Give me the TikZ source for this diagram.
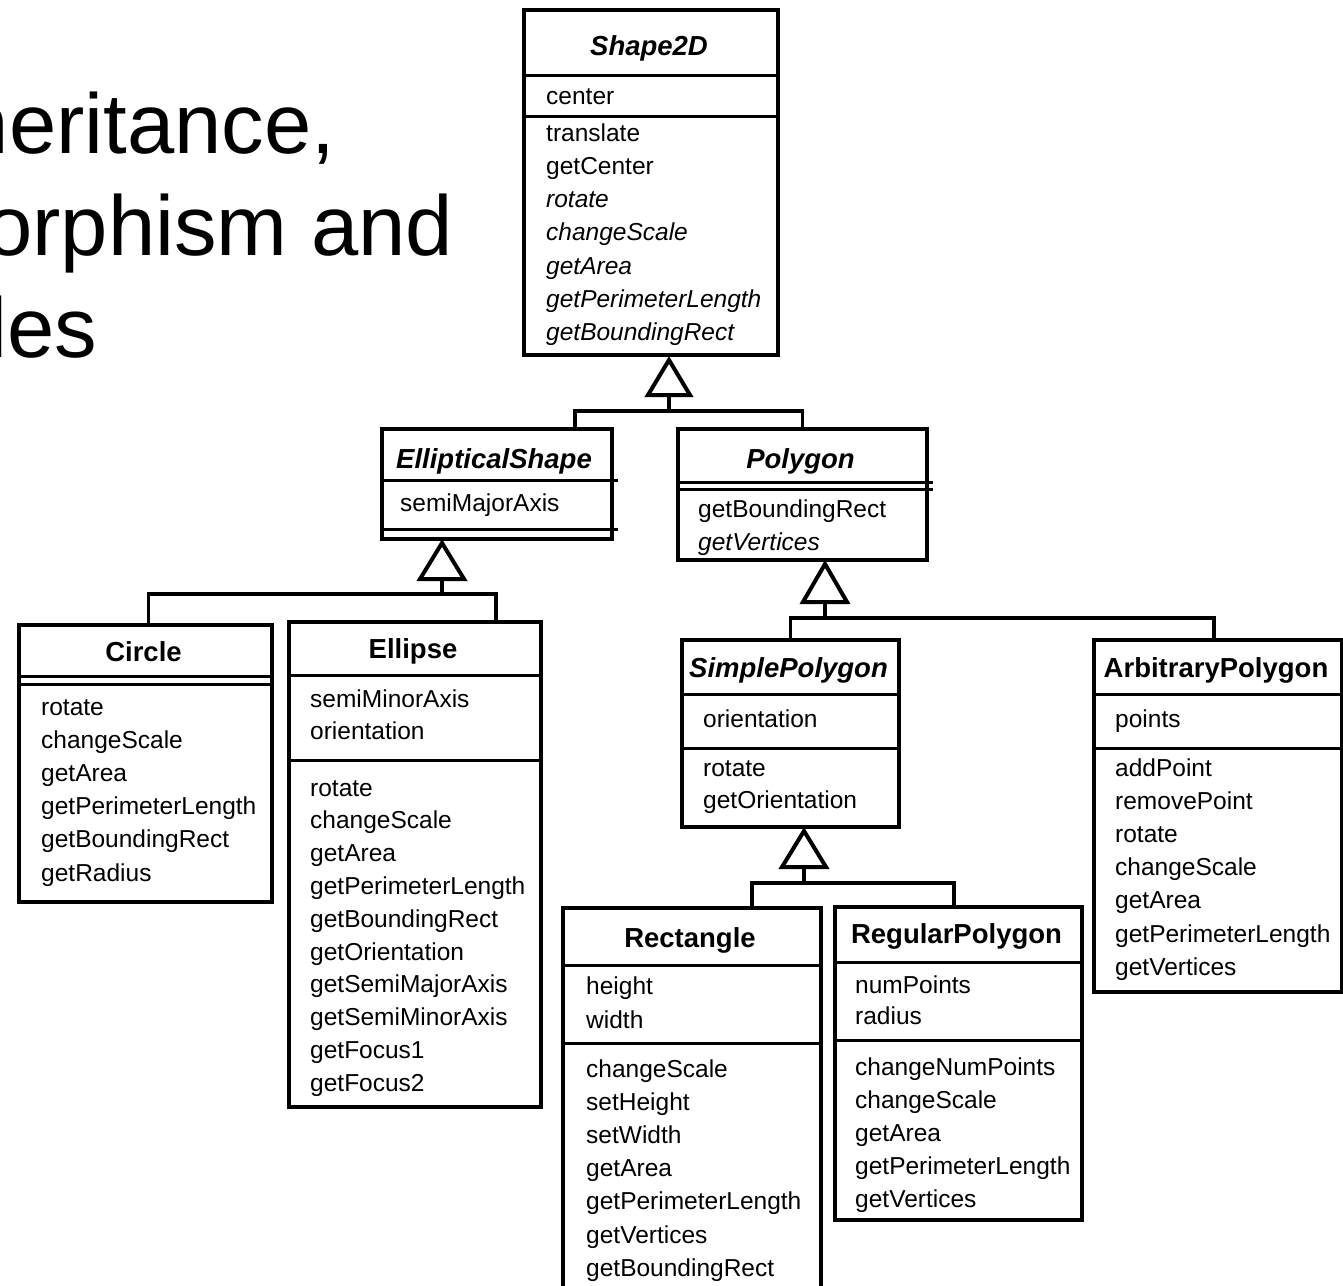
\documentclass[tikz,border=0pt]{standalone}
\usepackage{fontspec}
\setmainfont{Liberation Sans}
\usetikzlibrary{calc}
\begin{document}
\begin{tikzpicture}[x=1pt,y=-1pt,
  box/.style={draw, line width=4pt, inner sep=0pt, anchor=north west},
  boxline/.style={line width=4pt, line join=miter},
  div/.style={line width=3pt},
  conn/.style={line width=3.5pt},
  tri/.style={line width=4pt, line join=miter},
  ttl/.style={anchor=base, inner sep=0pt, font=\fontsize{27.5}{30}\selectfont\bfseries},
  ttla/.style={anchor=base, inner sep=0pt, font=\fontsize{27.5}{30}\selectfont\bfseries\itshape},
  mem/.style={anchor=base west, inner sep=0pt, font=\fontsize{24.5}{28}\selectfont},
  big/.style={anchor=base west, inner sep=0pt, font=\fontsize{85}{102}\selectfont}]
\useasboundingbox (0,0) rectangle (1343,1285);
\clip (0,0) rectangle (1343,1285);
\fill[white] (0,0) rectangle (1343,1285);

% slide title (cut at the left edge)
\node[big] (t1) at (-251,153) {2.6 Inheritance,};
\node[big] (t2) at (-251,255) {Polymorphism and};
\node[big] (t3) at (-251,357) {Variables};

% ---------- boxes ----------
\node[box, minimum width=254pt, minimum height=345pt] (shape) at (522,8) {};
\node[box, minimum width=230pt, minimum height=110pt] (ell) at (380,427) {};
\node[box, minimum width=249pt, minimum height=131pt] (poly) at (676,427) {};
\node[box, minimum width=253pt, minimum height=277pt] (circ) at (17,623) {};
\node[box, minimum width=252pt, minimum height=485pt] (elli) at (287,620) {};
\node[box, minimum width=217pt, minimum height=187pt] (simp) at (680,638) {};
\node[box, minimum width=248pt, minimum height=352pt] (arb) at (1092,638) {};
\node[box, draw=none, minimum width=254pt, minimum height=400pt] (rect) at (563,908) {};
\draw[boxline] (rect.south west) -- (rect.north west) -- (rect.north east) -- (rect.south east);
\node[box, minimum width=247pt, minimum height=313pt] (reg) at (833,905) {};

% ---------- dividers ----------
\foreach \b/\y in {shape/75, shape/116, circ/676, circ/684, elli/675, elli/760,
                   simp/694, simp/748, arb/694, arb/748, rect/965, rect/1043,
                   reg/962, reg/1040}
  \draw[div] (\b.west |- 0,\y) -- (\b.east |- 0,\y);
\foreach \b/\y in {ell/480, ell/529, poly/482, poly/489}
  \draw[div] (\b.west |- 0,\y) -- ($(\b.east |- 0,\y)+(4,0)$);

% ---------- titles ----------
\node[ttla] (shapeT) at (649,55) {Shape2D};
\node[ttla] (ellT) at (494,468) {EllipticalShape};
\node[ttla] (polyT) at (800.5,468) {Polygon};
\node[ttl] (circT) at (143.5,661) {Circle};
\node[ttl] (elliT) at (413,658) {Ellipse};
\node[ttla] (simpT) at (788.5,677) {SimplePolygon};
\node[ttl] (arbT) at (1216,677) {ArbitraryPolygon};
\node[ttl] (rectT) at (690,947) {Rectangle};
\node[ttl] (regT) at (956.5,943) {RegularPolygon};

% ---------- members ----------
\node[mem] (shapeA) at (546,104) {center};
\foreach \t [count=\i] in {translate,getCenter,\textit{rotate},\textit{changeScale},
    \textit{getArea},\textit{getPerimeterLength},\textit{getBoundingRect}}
  \node[mem] (shapeM\i) at (546,{141+33.3*(\i-1)}) {\t};

\node[mem] (ellA) at (400,511) {semiMajorAxis};

\node[mem] (polyM1) at (698,517) {getBoundingRect};
\node[mem] (polyM2) at (698,550) {\textit{getVertices}};

\foreach \t [count=\i] in {rotate,changeScale,getArea,getPerimeterLength,getBoundingRect,getRadius}
  \node[mem] (circM\i) at (41,{715+33.2*(\i-1)}) {\t};

\node[mem] (elliA1) at (310,707) {semiMinorAxis};
\node[mem] (elliA2) at (310,739) {orientation};
\foreach \t [count=\i] in {rotate,changeScale,getArea,getPerimeterLength,getBoundingRect,
    getOrientation,getSemiMajorAxis,getSemiMinorAxis,getFocus1,getFocus2}
  \node[mem] (elliM\i) at (310,{796+32.8*(\i-1)}) {\t};

\node[mem] (simpA) at (703,727) {orientation};
\node[mem] (simpM1) at (703,776) {rotate};
\node[mem] (simpM2) at (703,808) {getOrientation};

\node[mem] (arbA) at (1115,727) {points};
\foreach \t [count=\i] in {addPoint,removePoint,rotate,changeScale,getArea,getPerimeterLength,getVertices}
  \node[mem] (arbM\i) at (1115,{776+33.2*(\i-1)}) {\t};

\node[mem] (rectA1) at (586,994) {height};
\node[mem] (rectA2) at (586,1028) {width};
\foreach \t [count=\i] in {changeScale,setHeight,setWidth,getArea,getPerimeterLength,getVertices,getBoundingRect}
  \node[mem] (rectM\i) at (586,{1077+33.2*(\i-1)}) {\t};

\node[mem] (regA1) at (855,993) {numPoints};
\node[mem] (regA2) at (855,1024) {radius};
\foreach \t [count=\i] in {changeNumPoints,changeScale,getArea,getPerimeterLength,getVertices}
  \node[mem] (regM\i) at (855,{1075+33*(\i-1)}) {\t};

% ---------- generalisation connectors ----------
% Shape2D
\coordinate (a1) at ($(shape.south)+(18,3)$);
\draw[tri] (a1) -- ++(21,35) -- ++(-42,0) -- cycle;
\coordinate (b1) at ($(a1)+(0,35)$);
\coordinate (j1) at ($(a1)+(0,51)$);
\draw[conn] (b1) -- (j1);
\draw[conn] ($(ell.north)+(78,0)$) |- (j1) -| (poly.north);

% EllipticalShape
\coordinate (a2) at ($(ell.south)+(-55,2)$);
\draw[tri] (a2) -- ++(22,36) -- ++(-44,0) -- cycle;
\coordinate (b2) at ($(a2)+(0,36)$);
\coordinate (j2) at ($(a2)+(0,51)$);
\draw[conn] (b2) -- (j2);
\draw[conn] ($(circ.north)+(3,0)$) |- (j2) -| ($(elli.north)+(81,0)$);

% Polygon
\coordinate (a3) at ($(poly.south)+(22.5,2)$);
\draw[tri] (a3) -- ++(22,38) -- ++(-44,0) -- cycle;
\coordinate (b3) at ($(a3)+(0,38)$);
\coordinate (j3) at ($(a3)+(0,54)$);
\draw[conn] (b3) -- (j3);
\draw[conn] (simp.north) |- (j3) -| ($(arb.north)+(-4,0)$);

% SimplePolygon
\coordinate (a4) at ($(simp.south)+(13.5,2)$);
\draw[tri] (a4) -- ++(22,36) -- ++(-44,0) -- cycle;
\coordinate (b4) at ($(a4)+(0,36)$);
\coordinate (j4) at ($(a4)+(0,52)$);
\draw[conn] (b4) -- (j4);
\draw[conn] ($(rect.north)+(60,0)$) |- (j4) -| ($(reg.north)+(-4.5,0)$);
\end{tikzpicture}
\end{document}
